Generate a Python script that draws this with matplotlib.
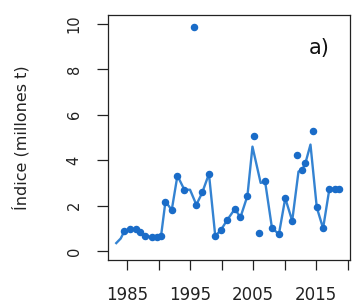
import matplotlib

matplotlib.use("Agg")
import matplotlib.pyplot as plt

# observed index values (points)
obs_year = [1984.6, 1985.5, 1986.5, 1987.1, 1987.9, 1988.9, 1989.8, 1990.4,
            1991.1, 1992.1, 1993.0, 1994.1, 1995.7, 1996.0, 1996.9, 1998.0,
            1999.0, 1999.9, 2000.9, 2002.1, 2003.0, 2004.1, 2005.2, 2005.9,
            2006.9, 2008.0, 2009.1, 2010.1, 2011.2, 2012.0, 2012.8, 2013.3,
            2014.5, 2015.1, 2016.1, 2017.1, 2018.0, 2018.7]
obs_value = [0.88, 0.97, 0.97, 0.85, 0.66, 0.62, 0.62, 0.66,
             2.18, 1.81, 3.32, 2.70, 9.85, 2.04, 2.60, 3.40,
             0.66, 0.93, 1.37, 1.85, 1.49, 2.43, 5.06, 0.78,
             3.07, 1.00, 0.75, 2.33, 1.33, 4.25, 3.58, 3.88,
             5.28, 1.92, 1.00, 2.74, 2.74, 2.74]

# fitted index (line)
fit_year = [1983.3, 1984.0, 1984.6, 1985.5, 1986.5, 1987.1, 1987.9, 1988.9,
            1989.8, 1990.4, 1991.1, 1992.1, 1993.0, 1994.1, 1995.0, 1996.0,
            1996.9, 1998.0, 1999.0, 1999.9, 2000.9, 2002.1, 2003.0, 2004.1,
            2004.9, 2006.2, 2006.9, 2008.0, 2009.1, 2010.1, 2011.2, 2012.2,
            2012.8, 2013.3, 2014.1, 2015.1, 2016.1, 2017.1, 2018.0, 2018.7]
fit_value = [0.35, 0.55, 0.88, 0.97, 0.97, 0.85, 0.66, 0.62,
             0.62, 0.66, 2.18, 1.81, 3.32, 2.70, 2.70, 2.04,
             2.55, 3.40, 0.66, 0.93, 1.37, 1.85, 1.49, 2.43,
             4.60, 3.00, 3.07, 1.00, 0.75, 2.33, 1.33, 3.50,
             3.58, 3.88, 4.69, 1.92, 1.00, 2.74, 2.74, 2.74]

x_ticks = [1985, 1990, 1995, 2000, 2005, 2010, 2015, 2020]
x_labels = ["1985", "", "1995", "", "2005", "", "2015", ""]
y_ticks = [0, 2, 4, 6, 8, 10]

TXT = "#222222"
LINE = "#3483d2"
PTS = "#1a6cc8"

fig = plt.figure(figsize=(3.52, 3.06), dpi=100)
ax = fig.add_axes([0.307, 0.150, 0.687, 0.801])

ax.plot(fit_year, fit_value, color=LINE, lw=1.7, zorder=2)
ax.plot(obs_year, obs_value, ls="none", marker="o", ms=4.4, color=PTS, zorder=3)

ax.set_xlim(1982.0, 2020.35)
ax.set_ylim(-0.4, 10.4)
ax.set_xticks(x_ticks)
ax.set_xticklabels(x_labels)
ax.set_yticks(y_ticks)
ax.set_yticklabels([str(v) for v in y_ticks], rotation=90, va="center")

for s in ax.spines.values():
    s.set_linewidth(0.9)
    s.set_color(TXT)
ax.tick_params(axis="x", direction="out", length=7, width=0.9, color=TXT,
               pad=12, labelsize=12, labelcolor=TXT)
ax.tick_params(axis="y", direction="out", length=8, width=0.9, color=TXT,
               pad=11, labelsize=10.5, labelcolor=TXT)

ax.set_ylabel("Índice (millones t)", fontsize=11.5, color=TXT, labelpad=27)
ax.text(0.83, 0.865, "a)", transform=ax.transAxes, fontsize=15, color="#111111",
        ha="left", va="center")

fig.savefig("out.png", dpi=100)
